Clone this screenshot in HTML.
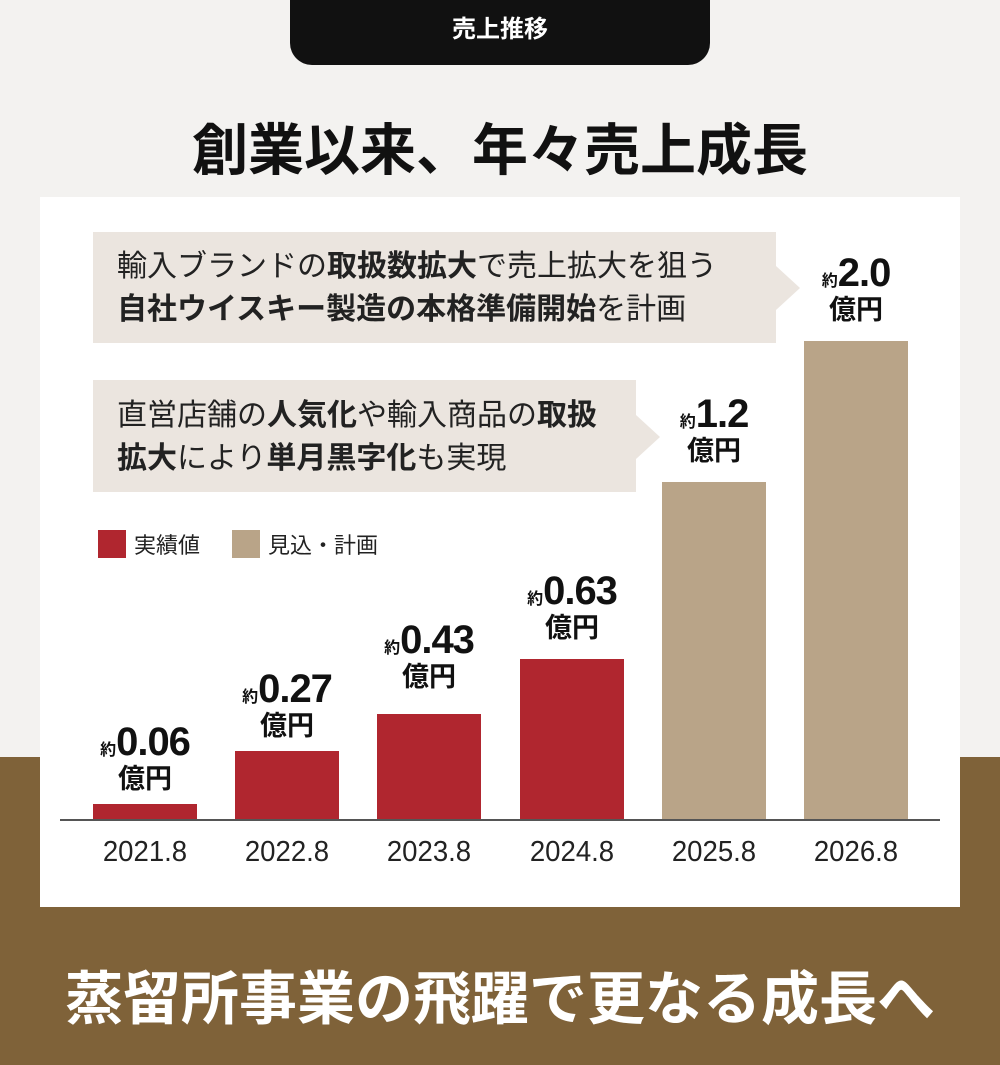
<!DOCTYPE html>
<html><head><meta charset="utf-8"><style>
body{margin:0;width:1000px;height:1065px;position:relative;overflow:hidden;background:#f3f2f0;font-family:"Liberation Sans","Noto Sans CJK JP",sans-serif;}
.a{position:absolute}
.bar{position:absolute;width:104px;bottom:245px}
.yr{position:absolute;top:836px;width:140px;text-align:center;font-size:29px;color:#222;transform:scaleX(0.95)}
.val{position:absolute;width:140px;text-align:center;color:#111;font-weight:bold;line-height:1}
.val .n{font-size:40px;font-family:"Liberation Sans Narrow","Liberation Sans",sans-serif;letter-spacing:-1px}
.val .s{font-size:16px}
.val .u{font-size:27px;display:block;margin-top:4px}
.cb{position:absolute;background:#ebe5df;font-size:30px;font-weight:normal;color:#222;line-height:43px;padding-left:24px;box-sizing:border-box;white-space:nowrap}
.cb b{font-weight:bold}
</style></head><body>
<div class="a" style="left:0;top:757px;width:1000px;height:308px;background:#7f6239"></div>
<div class="a" style="left:290px;top:0;width:420px;height:65px;background:#111;border-radius:0 0 22px 22px;color:#fff;font-size:24px;font-weight:bold;text-align:center;line-height:60px">売上推移</div>
<div class="a" style="left:0;top:106px;width:1000px;text-align:center;font-size:56px;font-weight:bold;color:#111">創業以来、年々売上成長</div>
<div class="a" style="left:40px;top:197px;width:920px;height:710px;background:#fff"></div>
<div class="cb" style="left:93px;top:232px;width:683px;height:111px;padding-top:13px">輸入ブランドの<b>取扱数拡大</b>で売上拡大を狙う<br><b>自社ウイスキー製造の本格準備開始</b>を計画</div>
<svg class="a" style="left:776px;top:266px" width="30" height="44"><polygon points="0,0 24,22 0,44" fill="#ebe5df"/></svg>
<div class="cb" style="left:93px;top:380px;width:543px;height:112px;padding-top:14px">直営店舗の<b>人気化</b>や輸入商品の<b>取扱</b><br><b>拡大</b>により<b>単月黒字化</b>も実現</div>
<svg class="a" style="left:636px;top:415px" width="30" height="44"><polygon points="0,0 24,22 0,44" fill="#ebe5df"/></svg>
<div class="a" style="left:98px;top:530px;width:28px;height:28px;background:#b0262f"></div>
<div class="a" style="left:134px;top:528px;font-size:22px;color:#222">実績値</div>
<div class="a" style="left:232px;top:530px;width:28px;height:28px;background:#b9a488"></div>
<div class="a" style="left:268px;top:528px;font-size:22px;color:#222">見込・計画</div>
<div class="bar" style="left:93px;height:16px;background:#b0262f"></div>
<div class="bar" style="left:235px;height:69px;background:#b0262f"></div>
<div class="bar" style="left:377px;height:106px;background:#b0262f"></div>
<div class="bar" style="left:520px;height:161px;background:#b0262f"></div>
<div class="bar" style="left:662px;height:338px;background:#b9a488"></div>
<div class="bar" style="left:804px;height:479px;background:#b9a488"></div>
<div class="a" style="left:60px;top:819px;width:880px;height:2px;background:#555"></div>
<div class="yr" style="left:75px">2021.8</div>
<div class="yr" style="left:217px">2022.8</div>
<div class="yr" style="left:359px">2023.8</div>
<div class="yr" style="left:502px">2024.8</div>
<div class="yr" style="left:644px">2025.8</div>
<div class="yr" style="left:786px">2026.8</div>
<div class="val" style="left:75px;top:722px"><span class="s">約</span><span class="n">0.06</span><span class="u">億円</span></div>
<div class="val" style="left:217px;top:669px"><span class="s">約</span><span class="n">0.27</span><span class="u">億円</span></div>
<div class="val" style="left:359px;top:620px"><span class="s">約</span><span class="n">0.43</span><span class="u">億円</span></div>
<div class="val" style="left:502px;top:571px"><span class="s">約</span><span class="n">0.63</span><span class="u">億円</span></div>
<div class="val" style="left:644px;top:394px"><span class="s">約</span><span class="n">1.2</span><span class="u">億円</span></div>
<div class="val" style="left:786px;top:253px"><span class="s">約</span><span class="n">2.0</span><span class="u">億円</span></div>
<div class="a" style="left:0;top:952px;width:1000px;text-align:center;font-size:58px;font-weight:bold;color:#fff">蒸留所事業の飛躍で更なる成長へ</div>
</body></html>
